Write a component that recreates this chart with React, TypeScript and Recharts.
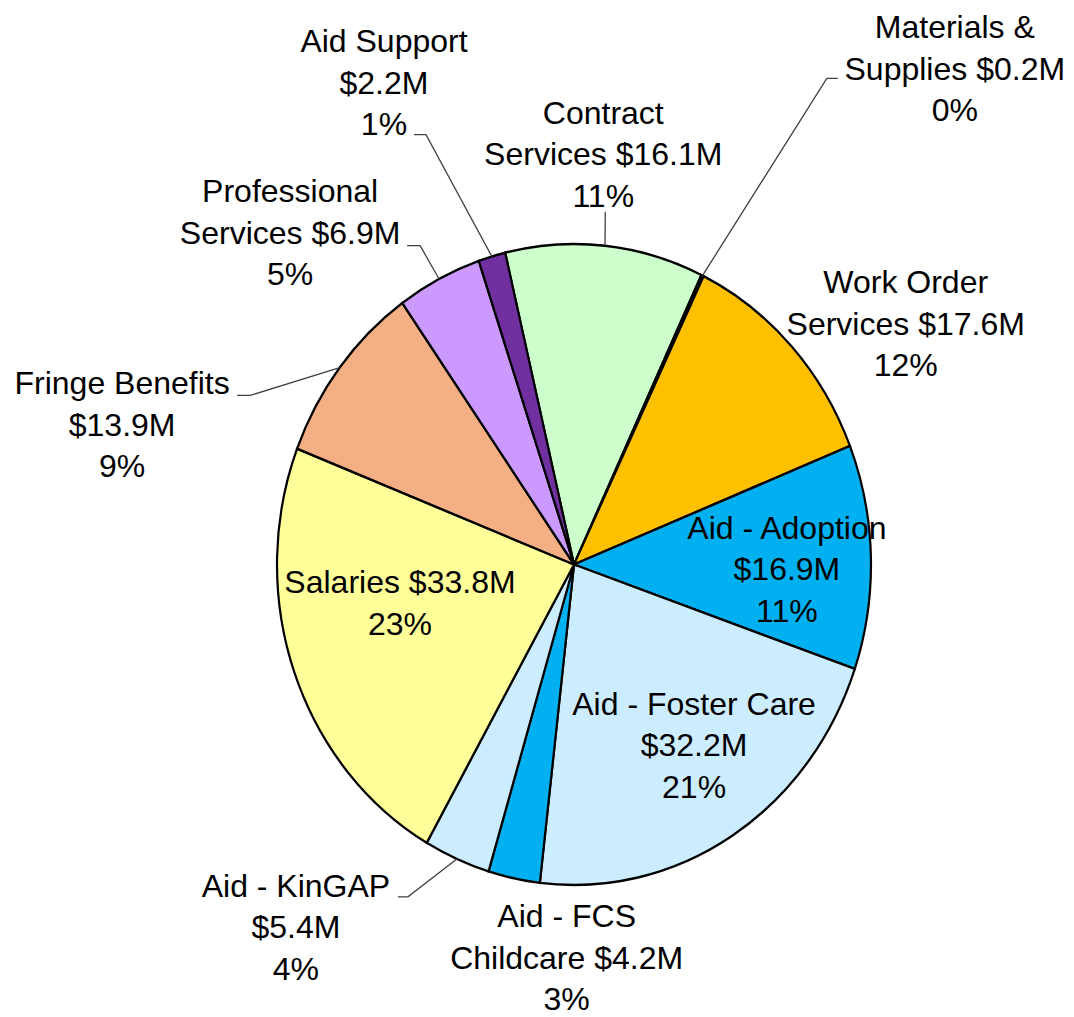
import { PieChart, Pie, Cell } from "recharts";

// slices in clockwise order, starting with Contract Services
const categories = [
  "Contract Services",
  "Materials & Supplies",
  "Work Order Services",
  "Aid - Adoption",
  "Aid - Foster Care",
  "Aid - FCS Childcare",
  "Aid - KinGAP",
  "Salaries",
  "Fringe Benefits",
  "Professional Services",
  "Aid Support",
];
const amounts = [16.1, 0.2, 17.6, 16.9, 32.2, 4.2, 5.4, 33.8, 13.9, 6.9, 2.2];
const percentLabels = ["11%", "0%", "12%", "11%", "21%", "3%", "4%", "23%", "9%", "5%", "1%"];
// how each label wraps; amount is appended to the last line ("" = own line)
const nameLines = [
  ["Contract", "Services"],
  ["Materials &", "Supplies"],
  ["Work Order", "Services"],
  ["Aid - Adoption", ""],
  ["Aid - Foster Care", ""],
  ["Aid - FCS", "Childcare"],
  ["Aid - KinGAP", ""],
  ["Salaries"],
  ["Fringe Benefits", ""],
  ["Professional", "Services"],
  ["Aid Support", ""],
];

const colors = [
  "#CCFFCC",
  "#2B2B2B",
  "#FFC000",
  "#00B0F0",
  "#CCECFF",
  "#00B0F0",
  "#CCECFF",
  "#FFFF99",
  "#F4B084",
  "#CC99FF",
  "#7030A0",
];

// label placement: radius factor, angle shift (deg) from the slice middle,
// and an optional leader stub [dx, dy, stubLength] relative to the label centre
const labelPlacement: { r: number; shift: number; leader?: [number, number, number] }[] = [
  { r: 1.285, shift: -1.6, leader: [2, 58, 0] },
  { r: 2.01, shift: 14.0, leader: [-117, 10, -11] },
  { r: 1.346, shift: 9.0 },
  { r: 0.717, shift: 2.5 },
  { r: 0.693, shift: -3.5 },
  { r: 1.226, shift: -10.5 },
  { r: 1.468, shift: 16.4, leader: [102, -30, 10] },
  { r: 0.598, shift: 8.0 },
  { r: 1.583, shift: -21.9, leader: [115, -29, 13] },
  { r: 1.409, shift: -15.7, leader: [117, 13, 13] },
  { r: 1.634, shift: -7.0, leader: [30, 52, 12] },
];

const data = categories.map((name, i) => ({ name, value: amounts[i] }));

const CX = 574;
const CY = 564.5;
const R = 297;
const STRETCH = 1.0791; // the pie is drawn slightly taller than wide
const FONT = 32;
const LINE = 41.5;
const RAD = Math.PI / 180;

const renderLabel = (props: any) => {
  const { cx, cy, midAngle, outerRadius, index } = props;
  const a = (90 - midAngle) * RAD;
  const p = labelPlacement[index];
  const la = a + p.shift * RAD;
  const lx = cx + outerRadius * p.r * Math.sin(la);
  const ly = cy - outerRadius * STRETCH * p.r * Math.cos(la);

  const names = nameLines[index];
  const money = "$" + amounts[index].toFixed(1) + "M";
  const lines = names.slice(0, -1);
  lines.push((names[names.length - 1] + " " + money).trim());
  lines.push(percentLabels[index]);
  const n = lines.length;

  let leader = null;
  if (p.leader) {
    const [dx, dy, stub] = p.leader;
    const ex = cx + outerRadius * Math.sin(a);
    const ey = cy - outerRadius * STRETCH * Math.cos(a);
    const sx = lx + dx;
    const sy = ly + dy;
    leader = (
      <polyline
        points={`${sx},${sy} ${sx + stub},${sy} ${ex},${ey}`}
        fill="none"
        stroke="#404040"
        strokeWidth={1.3}
      />
    );
  }

  return (
    <g key={`lbl-${index}`}>
      {leader}
      <text
        x={lx}
        y={ly}
        textAnchor="middle"
        fontSize={FONT}
        fontFamily="'Liberation Sans', Arial, sans-serif"
        fill="#000"
      >
        {lines.map((t, i) => (
          <tspan key={i} x={lx} y={ly + (i - (n - 1) / 2) * LINE + 0.35 * FONT}>
            {t}
          </tspan>
        ))}
      </text>
    </g>
  );
};

export default function App() {
  return (
    <div style={{ width: 1074, height: 1017, background: "#fff" }}>
      <style>{`
        body { margin: 0; }
        .recharts-sector { transform-origin: ${CX}px ${CY}px; transform: scaleY(${STRETCH}); }
      `}</style>
      <PieChart width={1074} height={1017} margin={{ top: 0, right: 0, bottom: 0, left: 0 }}>
        <Pie
          data={data}
          dataKey="value"
          nameKey="name"
          cx={CX}
          cy={CY}
          outerRadius={R}
          startAngle={103.4}
          endAngle={-256.6}
          stroke="#000"
          strokeWidth={2.2}
          label={renderLabel}
          labelLine={false}
          isAnimationActive={false}
        >
          {data.map((d, i) => (
            <Cell key={d.name} fill={colors[i]} />
          ))}
        </Pie>
      </PieChart>
    </div>
  );
}
